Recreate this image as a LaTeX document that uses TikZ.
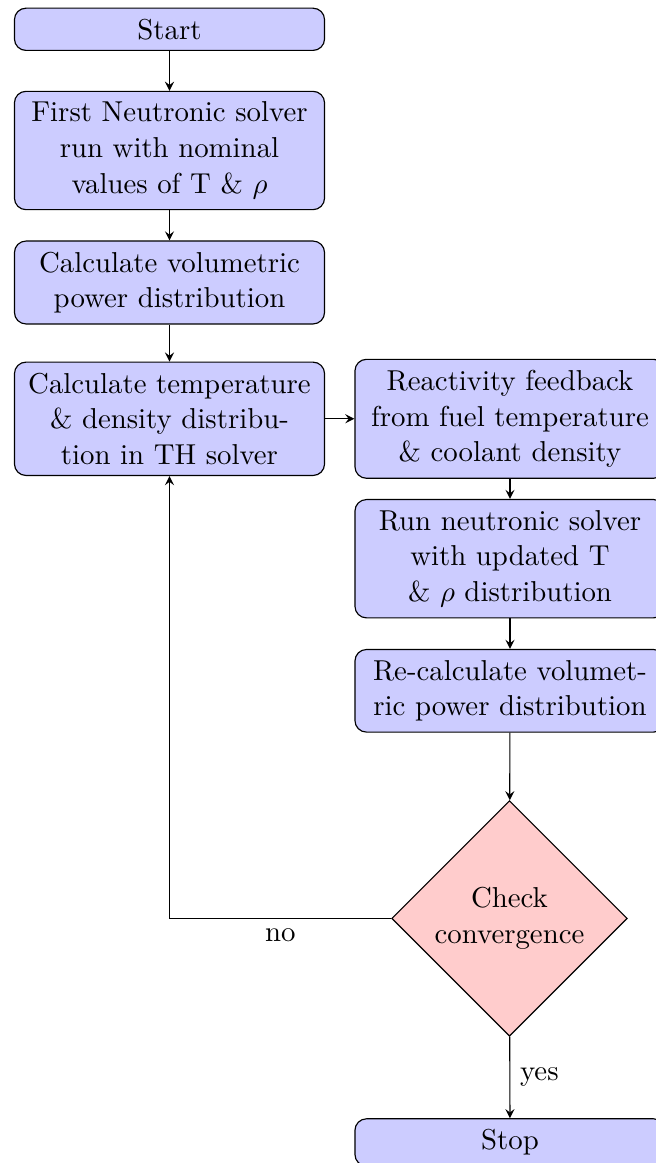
\documentclass[tikz,border=0pt]{standalone}
\usetikzlibrary{shapes.geometric,arrows}
\begin{document}
\begin{tikzpicture}[x=0.34722pt,y=-0.34722pt,
  every node/.style={font=\fontsize{10}{12.4}\selectfont},
  procbox/.style={rectangle, rounded corners=4pt, draw=black, fill=blue!20,
    text width=101pt, align=center, inner xsep=0.3333em, inner ysep=3.7pt},
  decbox/.style={diamond, aspect=1, draw=black, fill=red!20, align=center,
    inner sep=0pt, minimum width=81.8pt, minimum height=81.8pt},
  conn/.style={draw, -stealth}]
\useasboundingbox (0,0) rectangle (656,1163);
\node[procbox] (start)  at (169.5,29.3)  {Start};
\node[procbox] (first)  at (169.5,150.5) {First Neutronic solver run with nominal values of T \& $\rho$};
\node[procbox] (calcpow) at (169.5,282.5) {Calculate volumetric power distribution};
\node[procbox] (calcT)  at (169.5,418.8) {Calculate temperature \& density distribution in TH solver};
\node[procbox] (react)  at (510,418.8)   {Reactivity feedback from fuel temperature \& coolant density};
\node[procbox] (runN)   at (510,558.7)   {Run neutronic solver with updated T \& $\rho$ distribution};
\node[procbox] (recalc) at (510,690.8)   {Re-calculate volumetric power distribution};
\node[decbox]  (check)  at (509.5,918.4) {Check\\convergence};
\node[procbox] (stop)   at (510,1142.4)  {Stop};
\draw[conn] (start) -- (first);
\draw[conn] (first) -- (calcpow);
\draw[conn] (calcpow) -- (calcT);
\draw[conn] (calcT) -- (react);
\draw[conn] (react) -- (runN);
\draw[conn] (runN) -- (recalc);
\draw[conn] (recalc) -- (check);
\draw[conn] (check) -- node[right] {yes} (stop);
\draw[conn] (check.west) -| node[pos=0.25, below] {no} (calcT.south);
\end{tikzpicture}
\end{document}
